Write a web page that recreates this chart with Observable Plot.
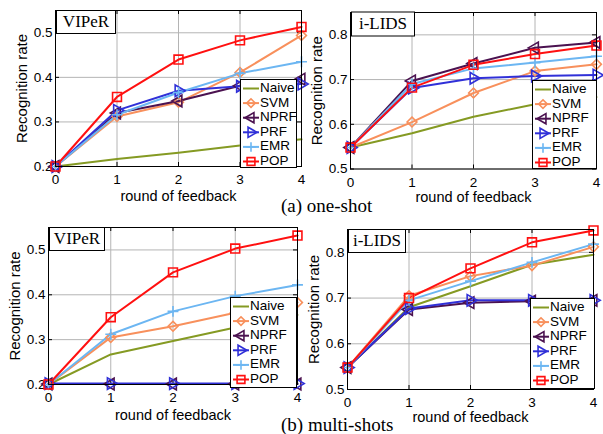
<!DOCTYPE html>
<html><head><meta charset="utf-8">
<script src="https://cdn.jsdelivr.net/npm/d3@7"></script>
<script src="https://cdn.jsdelivr.net/npm/@observablehq/plot@0.6"></script>
<style>
body{margin:0;background:#fff;}
#root{position:relative;width:603px;height:434px;overflow:hidden;background:#fff;}
.panel{position:absolute;width:340px;}
.panel svg{max-width:none !important;}
.cap{position:absolute;font-family:"Liberation Serif","Times New Roman",serif;font-size:19px;white-space:nowrap;line-height:19px;color:#000;}
</style></head><body><div id="root"></div>
<script>
// ---- data ----
const rounds = [0, 1, 2, 3, 4];
const methods = ["Naive", "SVM", "NPRF", "PRF", "EMR", "POP"];
const yTicksViper = [0.2, 0.3, 0.4, 0.5];
const yTicksIlids = [0.5, 0.6, 0.7, 0.8];
// rows follow `methods`, columns follow `rounds`
const viperOneShot = [
  [0.200, 0.217, 0.231, 0.247, 0.261],
  [0.200, 0.312, 0.344, 0.411, 0.494],
  [0.200, 0.320, 0.347, 0.381, 0.396],
  [0.200, 0.326, 0.370, 0.380, 0.385],
  [0.200, 0.316, 0.366, 0.409, 0.435],
  [0.200, 0.356, 0.440, 0.483, 0.513]
];
const ilidsOneShot = [
  [0.548, 0.580, 0.617, 0.645, 0.661],
  [0.548, 0.605, 0.670, 0.719, 0.734],
  [0.548, 0.697, 0.736, 0.771, 0.783],
  [0.548, 0.681, 0.703, 0.708, 0.710],
  [0.548, 0.690, 0.725, 0.738, 0.752],
  [0.548, 0.682, 0.733, 0.757, 0.776]
];
const viperMultiShot = [
  [0.200, 0.267, 0.297, 0.327, 0.355],
  [0.200, 0.305, 0.330, 0.360, 0.383],
  [0.201, 0.201, 0.201, 0.201, 0.201],
  [0.202, 0.202, 0.202, 0.202, 0.202],
  [0.200, 0.312, 0.363, 0.397, 0.422],
  [0.200, 0.350, 0.450, 0.503, 0.532]
];
const ilidsMultiShot = [
  [0.548, 0.680, 0.726, 0.773, 0.795],
  [0.548, 0.705, 0.748, 0.771, 0.812],
  [0.548, 0.675, 0.690, 0.693, 0.695],
  [0.548, 0.677, 0.695, 0.695, 0.695],
  [0.548, 0.695, 0.737, 0.778, 0.818],
  [0.548, 0.700, 0.765, 0.822, 0.848]
];

// ---- styles ----
const colors = ["#859a23", "#f8905c", "#4b1250", "#3030d8", "#6cb6f2", "#ff1010"];
const symbols = [null, "square", "triangle", "triangle", "plus", "square"];
const rotations = [0, 45, -90, 90, 0, 0];
const radii = [0, 3.9, 4.3, 4.3, 3.6, 5.0];
const d3sym = {triangle: d3.symbolTriangle, plus: d3.symbolPlus, square: d3.symbolSquare};
const SANS = '"Liberation Sans", Arial, sans-serif';
const SERIF = '"Liberation Serif", "Times New Roman", serif';

const root = document.getElementById("root");

const panels = [
  {L: 55, R: 301, T: 10, B: 166, ydom: [0.2, 0.55], yticks: yTicksViper, data: viperOneShot, title: "VIPeR", tw: 59, th: 23, leg: {x: 240, y: 79, w: 56, h: 88}, xl: 30},
  {L: 350, R: 596, T: 11.5, B: 168, ydom: [0.5, 0.85], yticks: yTicksIlids, data: ilidsOneShot, title: "i-LIDS", tw: 63, th: 24, leg: {x: 532, y: 80, w: 64, h: 88}, xl: 28},
  {L: 48, R: 297, T: 227, B: 384, ydom: [0.2, 0.55], yticks: yTicksViper, data: viperMultiShot, title: "VIPeR", tw: 55, th: 23, leg: {x: 230, y: 297, w: 66, h: 90}, xl: 30.5},
  {L: 347, R: 593, T: 229, B: 389, ydom: [0.5, 0.85], yticks: yTicksIlids, data: ilidsMultiShot, title: "i-LIDS", tw: 57, th: 23, leg: {x: 530, y: 298, w: 64, h: 90}, xl: 28}
];

const mL = 60, mT = 12, mR = 14, mB = 40;

for (const p of panels) {
  const W = p.R - p.L, H = p.B - p.T;
  const marks = [
    Plot.gridX(rounds, {x: d => d, stroke: "#b4b4b4", strokeOpacity: 1, strokeWidth: 1}),
    Plot.gridY(p.yticks, {y: d => d, stroke: "#b4b4b4", strokeOpacity: 1, strokeWidth: 1}),
    // inward tick marks (matlab style)
    Plot.tickX(rounds, {x: d => d, insetTop: H - 4, stroke: "#000"}),
    Plot.tickX(rounds, {x: d => d, insetBottom: H - 4, stroke: "#000"}),
    Plot.tickY(p.yticks, {y: d => d, insetRight: W - 4, stroke: "#000"}),
    Plot.tickY(p.yticks, {y: d => d, insetLeft: W - 4, stroke: "#000"}),
    Plot.axisX(rounds, {tickSize: 0, tickPadding: 8, label: null, fontSize: 13.5, tickFormat: d3.format("d")}),
    Plot.axisY(p.yticks, {tickSize: 0, tickPadding: 3, label: null, fontSize: 13.5, tickFormat: d3.format(".1f")}),
    Plot.text(["round of feedback"], {frameAnchor: "bottom", textAnchor: "middle", lineAnchor: "middle", dy: p.xl, fontSize: 14.5, fill: "#000"}),
    Plot.text(["Recognition rate"], {frameAnchor: "left", textAnchor: "middle", lineAnchor: "middle", rotate: -90, dx: -33, fontSize: 15, fill: "#000"})
  ];
  methods.forEach((m, i) => {
    const rows = rounds.map((r, j) => ({x: r, y: p.data[i][j]}));
    marks.push(Plot.line(rows, {x: "x", y: "y", stroke: colors[i], strokeWidth: 2}));
  });
  methods.forEach((m, i) => {
    if (!symbols[i]) return;
    const rows = rounds.map((r, j) => ({x: r, y: p.data[i][j]}));
    marks.push(Plot.dot(rows, {x: "x", y: "y", symbol: symbols[i], rotate: rotations[i], r: radii[i], stroke: colors[i], strokeWidth: 1.6, fill: "none"}));
  });
  marks.push(Plot.frame({stroke: "#000", strokeWidth: 1}));

  const chart = Plot.plot({
    width: mL + W + mR, height: mT + H + mB,
    marginLeft: mL, marginRight: mR, marginTop: mT, marginBottom: mB,
    style: {fontFamily: SANS, fontSize: "14px", background: "transparent", color: "#000", overflow: "visible"},
    x: {domain: [0, 4]},
    y: {domain: p.ydom},
    marks
  });
  const div = document.createElement("div");
  div.className = "panel";
  div.style.left = (p.L - mL) + "px";
  div.style.top = (p.T - mT) + "px";
  div.appendChild(chart);
  root.appendChild(div);
}

// overlay: title boxes and legends
const ov = d3.select(root).append("svg")
  .attr("width", 603).attr("height", 434)
  .style("position", "absolute").style("left", 0).style("top", 0).style("overflow", "visible");

for (const p of panels) {
  const g = ov.append("g");
  g.append("rect").attr("x", p.L + 1.5).attr("y", p.T + 0.5).attr("width", p.tw).attr("height", p.th)
    .attr("fill", "#fff").attr("stroke", "#000").attr("stroke-width", 1);
  g.append("text").attr("x", p.L + 1.5 + p.tw / 2).attr("y", p.T + 0.5 + p.th / 2 + 1)
    .attr("text-anchor", "middle").attr("dominant-baseline", "middle")
    .style("font-family", SERIF).style("font-size", "17px").text(p.title);

  const lg = p.leg;
  g.append("rect").attr("x", lg.x + 0.5).attr("y", lg.y + 0.5).attr("width", lg.w).attr("height", lg.h)
    .attr("fill", "#fff").attr("stroke", "#000").attr("stroke-width", 1);
  methods.forEach((m, i) => {
    const y = lg.y + 9.5 + i * 14.6;
    g.append("line").attr("x1", lg.x + 3).attr("x2", lg.x + 19).attr("y1", y).attr("y2", y)
      .attr("stroke", colors[i]).attr("stroke-width", 2);
    if (symbols[i]) {
      const r = radii[i] * 0.88;
      g.append("path")
        .attr("d", d3.symbol().type(d3sym[symbols[i]]).size(Math.PI * r * r)())
        .attr("transform", `translate(${lg.x + 11},${y}) rotate(${rotations[i]})`)
        .attr("fill", "none").attr("stroke", colors[i]).attr("stroke-width", 1.6);
    }
    g.append("text").attr("x", lg.x + 20).attr("y", y).attr("dominant-baseline", "middle")
      .style("font-family", SANS).style("font-size", "13.5px").text(m);
  });
}

// captions
const caps = [["(a) one-shot", 281, 196], ["(b) multi-shots", 281, 415]];
for (const [t, x, y] of caps) {
  const d = document.createElement("div");
  d.className = "cap";
  d.style.left = x + "px"; d.style.top = y + "px";
  d.textContent = t;
  root.appendChild(d);
}
</script>
</body></html>
